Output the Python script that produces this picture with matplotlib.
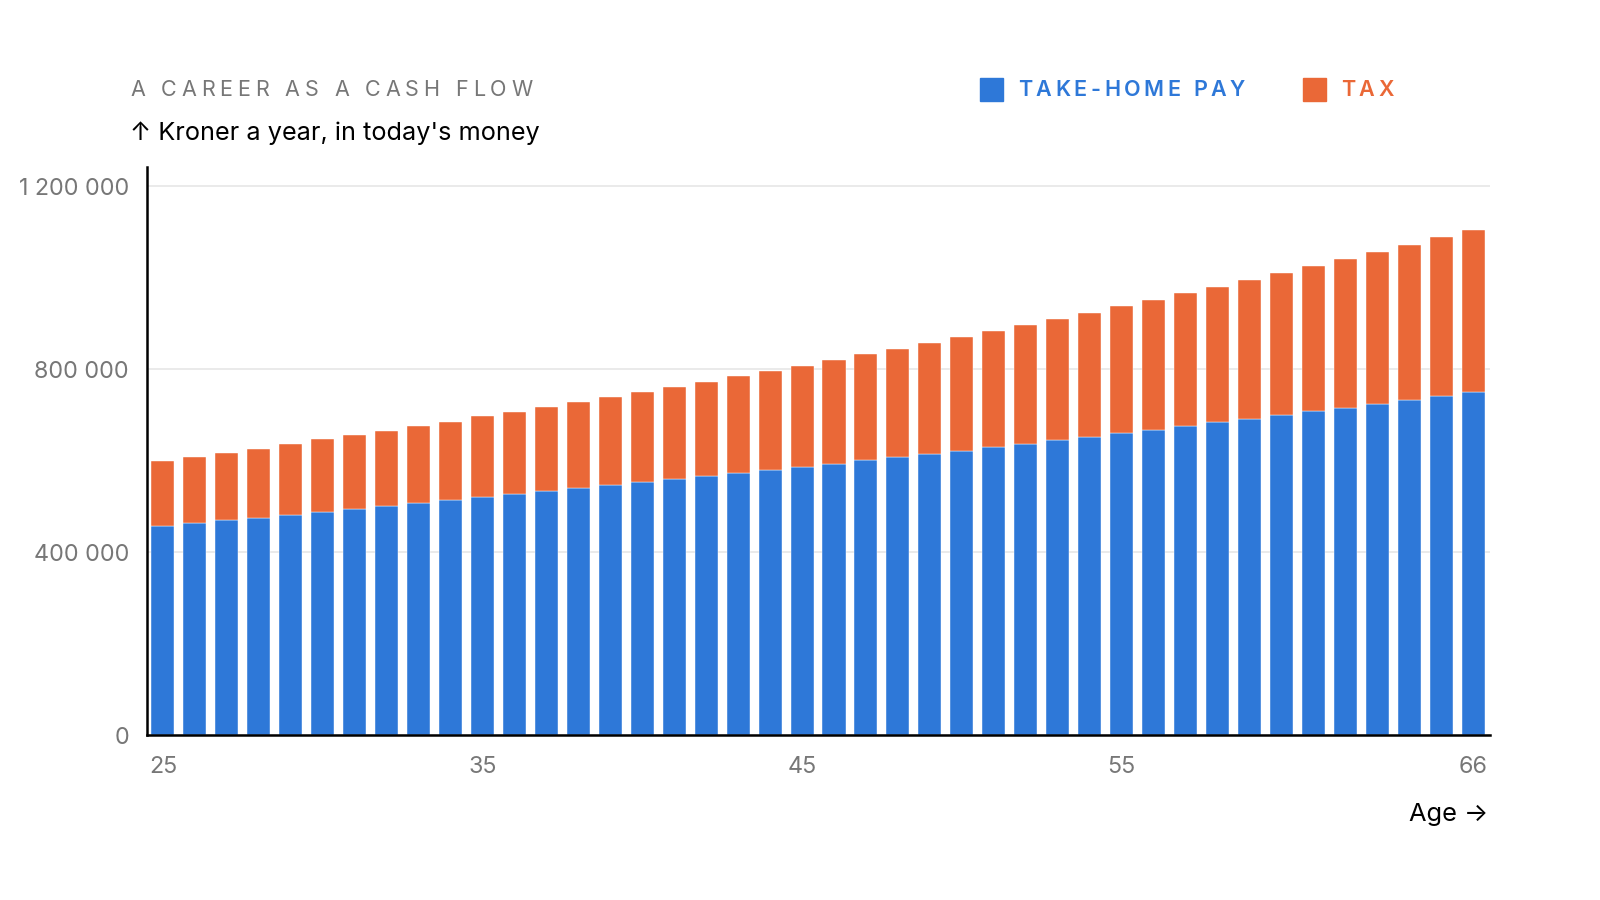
import matplotlib
matplotlib.use("Agg")
import matplotlib.pyplot as plt
import numpy as np
from matplotlib.font_manager import FontProperties
from matplotlib.textpath import TextToPath

# ages and yearly amounts (kroner, today's money)
ages = list(range(25, 67))
take_home = [457, 463, 470, 474, 481, 487, 494, 501, 507, 514,
             520, 527, 533, 540, 547, 553, 560, 566, 573, 579,
             586, 592, 601, 608, 614, 621, 630, 636, 645, 651,
             660, 667, 675, 684, 691, 700, 708, 715, 724, 732,
             741, 750]
gross = [599, 608, 616, 625, 636, 647, 656, 665, 675, 684,
         697, 706, 717, 728, 739, 750, 761, 772, 785, 796,
         807, 820, 833, 844, 857, 870, 883, 896, 909, 922,
         938, 951, 966, 979, 995, 1010, 1025, 1041, 1056, 1071,
         1089, 1104]
take_home = np.array(take_home) * 1000
tax = np.array(gross) * 1000 - take_home

x_ticks = [25, 35, 45, 55, 66]
y_ticks = [0, 400000, 800000, 1200000]

BLUE = "#2E78D8"
ORANGE = "#EA6837"
GREY = "#777777"

plt.rcParams['font.family'] = ['Inter', 'DejaVu Sans']

W, H, DPI = 1600, 900, 100
fig = plt.figure(figsize=(W / DPI, H / DPI), dpi=DPI)
ax = fig.add_axes([147 / W, 1 - 735 / H, (1490 - 147) / W, (735 - 167) / H])

ax.bar(ages, take_home, width=0.72, color=BLUE, edgecolor="white", linewidth=0.3, zorder=3)
ax.bar(ages, tax, bottom=take_home, width=0.72, color=ORANGE, edgecolor="white", linewidth=0.3, zorder=3)

ax.set_xlim(24.5, 66.53)
ax.set_ylim(0, 1242000)
ax.set_xticks(x_ticks)
ax.set_yticks(y_ticks)
ax.set_yticklabels([f"{v:,.0f}".replace(",", " ") for v in y_ticks])
ax.tick_params(length=0, labelsize=16.8, labelcolor=GREY)
ax.tick_params(axis='y', pad=13)
ax.tick_params(axis='x', pad=15)
ax.grid(axis='y', color="#e6e6e6", linewidth=1.2, zorder=0)
for s in ['top', 'right']:
    ax.spines[s].set_visible(False)
for s in ['left', 'bottom']:
    ax.spines[s].set_linewidth(1.8)
    ax.spines[s].set_color("black")
    ax.spines[s].set_zorder(4)

ttp = TextToPath()


def spaced_text(x_px, y_px, s, prop, color, tracking):
    x = x_px
    for ch in s:
        fig.text(x / W, 1 - y_px / H, ch, fontproperties=prop, color=color,
                 va='center', ha='left')
        w, _, _ = ttp.get_text_width_height_descent(ch, prop, ismath=False)
        x += w * DPI / 72 + tracking


title_prop = FontProperties(family='Inter', size=15.5)
spaced_text(130, 90, "A CAREER AS A CASH FLOW", title_prop, GREY, 4.85)

fig.text(130 / W, 1 - 133 / H, "↑ Kroner a year, in today's money",
         fontsize=18.2, color="black", va='center', ha='left',
         family=['Inter', 'DejaVu Sans'])

fig.text(1488 / W, 1 - 815 / H, "Age →", fontsize=18.3, color="black",
         va='center', ha='right', family=['Inter', 'DejaVu Sans'])

# legend
leg_prop = FontProperties(family='Inter', size=15.5, weight='semibold')
fig.patches.append(plt.Rectangle((980 / W, 1 - 101 / H), 23 / W, 23 / H,
                                 transform=fig.transFigure, color=BLUE))
spaced_text(1018, 90, "TAKE-HOME PAY", leg_prop, BLUE, 3.6)
fig.patches.append(plt.Rectangle((1303 / W, 1 - 101 / H), 23 / W, 23 / H,
                                 transform=fig.transFigure, color=ORANGE))
spaced_text(1341, 90, "TAX", leg_prop, ORANGE, 3.6)

fig.savefig("out.png", dpi=DPI)
